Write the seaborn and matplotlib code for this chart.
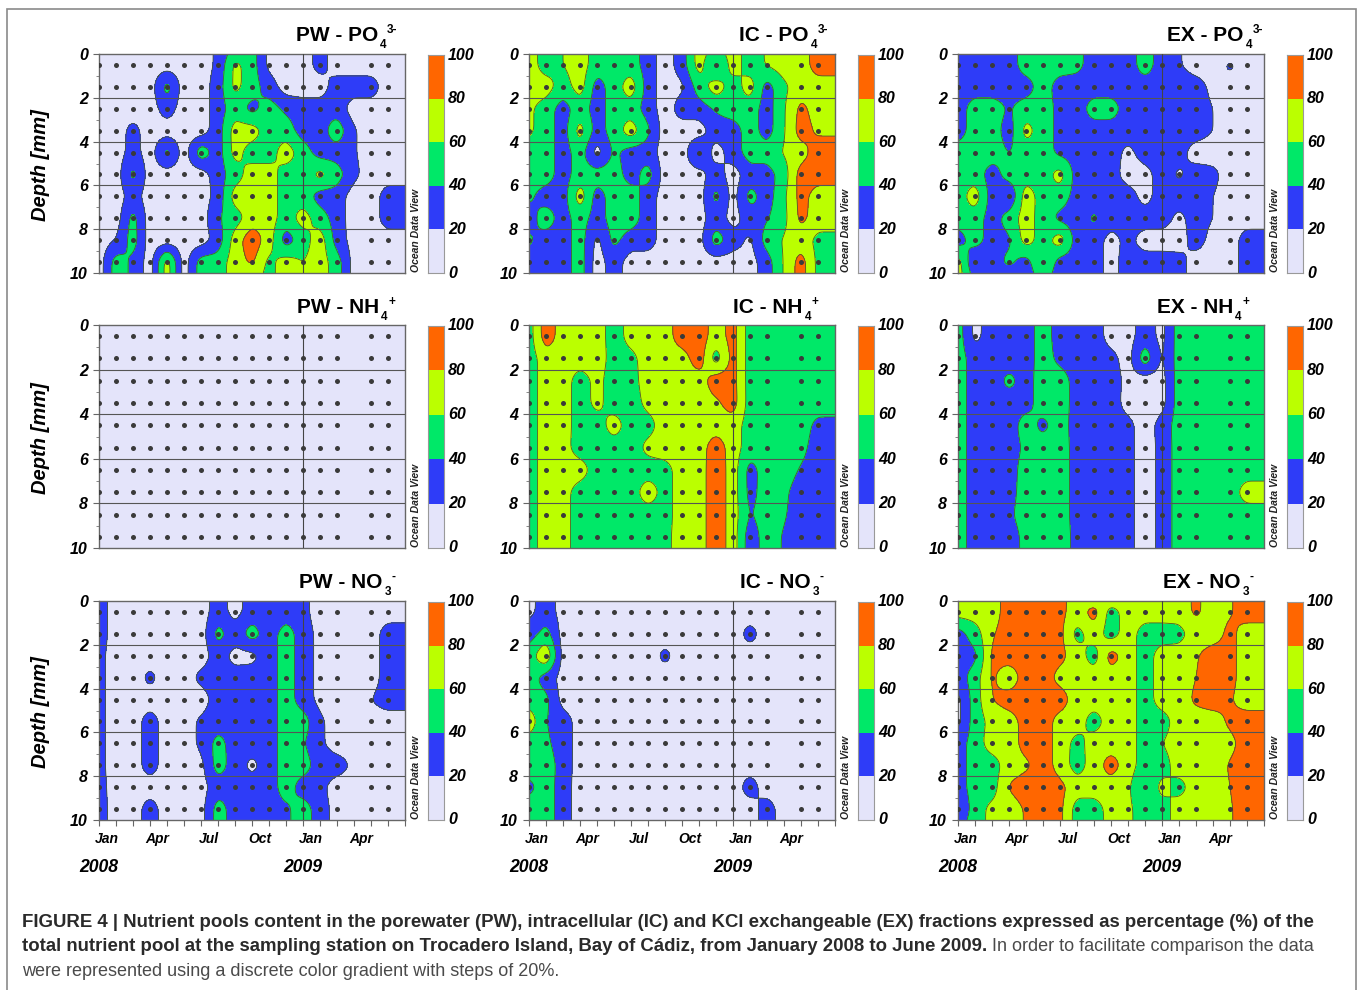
import numpy as np
import pandas as pd
import seaborn as sns
import matplotlib.pyplot as plt
from matplotlib.colors import ListedColormap
from matplotlib.patches import Rectangle
from matplotlib.ticker import MultipleLocator

W, H = 1357, 990

# percent of the pool at each sampling dot, rows = depth 0.5..9.5 mm, columns = month 0..17
pw_po4 = [
    [10,10,10,10,10,10,10,24,66,50,14,10,10,28,10,10,10,10],
    [10,10,10,10,50,10,10,30,66,50,30,10,10,10,30,30,30,10],
    [10,10,10,10,30,10,10,30,50,32,50,36,30,30,30,10,10,10],
    [10,10,27,10,10,10,10,30,70,70,50,50,30,30,54,22,10,10],
    [10,10,28,10,50,10,54,30,68,50,50,72,50,30,30,22,10,10],
    [10,10,48,10,10,10,10,30,50,70,70,50,50,68,50,25,10,10],
    [10,10,28,10,10,10,10,27,70,70,70,50,50,30,30,10,10,30],
    [10,10,48,10,10,10,10,38,50,70,70,50,70,50,30,10,10,30],
    [10,20,50,10,10,10,10,28,70,94,70,28,50,72,30,12,10,10],
    [10,50,36,10,72,10,50,50,70,84,54,70,60,70,50,12,10,10],
]
ic_po4 = [
    [70,50,60,70,50,50,50,30,10,30,70,32,70,50,62,70,70,90],
    [70,70,50,70,30,50,72,30,10,16,50,72,50,70,30,56,70,70],
    [64,50,30,50,30,50,50,30,10,30,30,42,50,50,30,58,86,70],
    [64,50,30,70,30,50,72,44,10,10,10,30,30,50,30,58,90,76],
    [50,50,30,50,10,44,30,30,10,10,46,10,30,50,50,62,70,92],
    [50,50,30,50,50,50,30,50,10,10,12,30,10,30,30,50,90,90],
    [44,30,30,72,30,50,50,30,10,10,10,48,12,48,30,56,88,70],
    [30,52,30,50,30,50,50,30,10,10,12,30,12,30,38,54,86,70],
    [44,30,30,50,14,46,30,30,10,10,12,52,30,16,50,62,70,54],
    [30,30,30,50,10,30,10,10,10,10,10,10,10,12,30,62,90,54],
]
ex_po4 = [
    [30,30,30,30,50,50,50,46,30,30,30,50,30,22,10,10,25,10],
    [30,30,30,30,30,50,30,30,30,30,30,30,30,30,30,14,10,10],
    [30,50,50,38,50,50,34,30,50,50,30,30,30,30,30,20,10,10],
    [30,50,50,30,68,50,34,30,30,30,30,30,30,30,30,20,10,10],
    [50,50,50,39,50,50,34,30,30,30,14,30,30,28,10,10,10,10],
    [50,50,30,50,50,50,70,30,30,30,10,12,30,16,30,26,10,10],
    [50,72,30,18,72,50,50,32,30,30,30,12,30,30,30,20,10,10],
    [50,50,30,50,70,50,34,30,44,30,30,30,30,14,30,20,10,10],
    [30,50,30,36,70,50,72,30,30,12,26,10,10,10,30,12,10,30],
    [70,18,30,46,30,64,30,30,30,12,30,30,30,28,10,10,10,30],
]
pw_nh4 = [
    [10,10,10,10,10,10,10,10,10,10,10,10,10,10,10,10,10,10],
    [10,10,10,10,10,10,10,10,10,10,10,10,10,10,10,10,10,10],
    [10,10,10,10,10,10,10,10,10,10,10,10,10,10,10,10,10,10],
    [10,10,10,10,10,10,10,10,10,10,10,10,10,10,10,10,10,10],
    [10,10,10,10,10,10,10,10,10,10,10,10,10,10,10,10,10,10],
    [10,10,10,10,10,10,10,10,10,10,10,10,10,10,10,10,10,10],
    [10,10,10,10,10,10,10,10,10,10,10,10,10,10,10,10,10,10],
    [10,10,10,10,10,10,10,10,10,10,10,10,10,10,10,10,10,10],
    [10,10,10,10,10,10,10,10,10,10,10,10,10,10,10,10,10,10],
    [10,10,10,10,10,10,10,10,10,10,10,10,10,10,10,10,10,10],
]
ic_nh4 = [
    [50,92,70,70,70,50,68,70,70,92,92,70,88,50,50,50,50,50],
    [50,70,70,70,70,52,54,70,70,70,92,48,88,50,50,50,50,50],
    [50,70,70,50,66,50,52,70,70,70,70,92,88,50,50,50,50,50],
    [50,70,70,50,66,50,50,66,70,70,70,76,90,50,50,50,50,50],
    [50,70,70,50,50,70,50,52,70,70,70,70,70,50,50,50,50,34],
    [50,70,68,50,50,50,50,66,70,70,70,92,70,50,50,50,46,30],
    [50,70,70,70,50,50,50,50,52,70,70,94,70,32,50,50,38,30],
    [50,70,68,50,50,50,50,72,52,70,70,94,70,33,50,44,30,30],
    [50,70,68,50,50,50,50,50,52,70,70,94,70,38,50,42,30,30],
    [50,70,68,50,50,50,50,50,54,70,70,94,70,28,50,38,30,30],
]
ex_nh4 = [
    [50,14,30,30,30,50,30,30,30,12,12,30,14,50,50,50,50,50],
    [50,30,30,30,30,50,34,30,30,26,12,54,16,50,50,50,50,50],
    [50,30,30,46,32,50,50,32,30,30,14,10,12,50,50,50,50,50],
    [50,30,30,30,32,50,50,32,30,30,12,10,12,50,50,50,50,50],
    [50,30,30,30,50,34,50,30,30,30,26,10,28,50,50,50,50,50],
    [50,30,30,30,44,50,50,32,30,30,26,10,26,50,50,50,50,50],
    [50,30,30,30,50,50,50,32,30,30,26,10,26,50,50,50,50,50],
    [50,30,30,32,50,50,50,32,30,30,26,10,26,50,50,50,50,70],
    [50,30,30,36,50,50,50,32,30,30,26,10,26,50,50,50,50,50],
    [50,30,30,30,46,50,50,34,30,30,26,10,26,50,50,50,50,50],
]
pw_no3 = [
    [30,10,10,10,10,10,10,30,12,30,18,30,26,10,10,10,10,10],
    [30,10,10,10,10,10,10,48,30,50,30,50,30,14,10,10,10,30],
    [26,10,10,10,10,10,10,30,12,14,30,50,30,14,10,10,10,30],
    [26,10,10,26,10,10,26,30,30,30,30,50,30,14,10,10,10,30],
    [26,10,10,10,10,10,10,30,30,30,30,50,30,14,10,10,20,30],
    [26,10,10,30,10,10,24,30,30,30,30,50,50,24,10,10,10,10],
    [26,10,10,30,10,10,24,48,30,30,30,50,42,24,10,10,10,10],
    [26,10,10,30,10,10,14,50,30,14,30,50,50,30,30,16,10,10],
    [28,10,10,10,10,10,12,30,30,30,30,50,30,26,10,10,10,10],
    [30,10,10,30,10,10,12,50,30,30,30,36,50,30,12,10,10,10],
]
ic_no3 = [
    [14,30,12,10,10,10,10,10,10,10,10,10,10,10,10,10,10,10],
    [30,48,12,10,10,10,10,10,10,10,10,10,10,28,10,10,10,10],
    [50,80,12,10,10,10,10,10,26,10,10,10,10,10,10,10,10,10],
    [50,30,12,10,10,10,10,10,10,10,10,10,10,10,10,10,10,10],
    [50,46,12,10,10,10,10,10,10,10,10,10,10,10,10,10,10,10],
    [74,40,30,12,10,10,10,10,10,10,10,10,10,10,10,10,10,10],
    [50,44,30,12,10,10,10,10,10,10,10,10,10,10,10,10,10,10],
    [50,50,32,10,10,10,10,10,10,10,10,10,10,10,10,10,10,10],
    [34,50,30,10,10,10,10,10,10,10,10,10,10,30,10,10,10,10],
    [50,50,30,10,10,10,10,10,10,10,10,10,10,10,30,10,10,10],
]
ex_no3 = [
    [70,70,70,90,90,90,86,70,90,50,70,70,70,70,84,70,78,90],
    [30,50,78,90,90,90,86,52,70,50,70,50,50,52,70,70,86,70],
    [30,34,84,90,90,90,86,70,50,90,70,50,70,70,78,90,86,70],
    [30,50,84,66,90,90,73,70,70,70,70,50,70,70,80,90,86,70],
    [14,50,80,90,90,90,90,70,70,70,70,50,70,70,84,90,82,70],
    [14,50,66,70,88,90,72,70,50,70,70,50,50,70,70,70,84,90],
    [30,50,70,70,88,90,72,52,70,70,70,50,60,70,70,70,74,90],
    [30,50,50,70,76,90,72,50,70,90,70,50,50,70,70,70,82,90],
    [30,50,50,82,90,90,86,70,70,70,64,36,68,52,70,70,80,90],
    [18,50,66,70,82,90,86,50,50,68,64,50,50,70,70,70,78,90],
]

# values at the surface (0 mm) or bottom (10 mm) where a blob closes before the edge:
# panel, edge row (0 top, 11 bottom), month, percent
edge_values = [
    (0, 0, 8, 50), (0, 11, 9, 70),
    (1, 0, 11, 50),
    (2, 0, 16, 10), (2, 11, 1, 30), (2, 11, 3, 30), (2, 11, 5, 50),
    (6, 0, 10, 30),
    (8, 0, 8, 70), (8, 0, 9, 70), (8, 11, 0, 30),
]

panel_titles = ["PW - PO", "IC - PO", "EX - PO", "PW - NH", "IC - NH", "EX - NH", "PW - NO", "IC - NO", "EX - NO"]
title_sub = ["4", "4", "4", "4", "4", "4", "3", "3", "3"]
title_sup = ["3-", "3-", "3-", "+", "+", "+", "-", "-", "-"]
panel_values = [pw_po4, ic_po4, ex_po4, pw_nh4, ic_nh4, ex_nh4, pw_no3, ic_no3, ex_no3]
title_x = [296, 739, 1167, 297, 733, 1157, 299, 740, 1163]
title_y = [41, 41, 41, 313, 313, 313, 588, 588, 588]

month_labels = ["Jan", "Apr", "Jul", "Oct", "Jan", "Apr"]
month_ticks = [0, 3, 6, 9, 12, 15]
year_labels = ["2008", "2009"]
year_ticks = [0, 12]
depth_ticks = [0, 2, 4, 6, 8, 10]
scale_ticks = [0, 20, 40, 60, 80, 100]
scale_mid = [90, 70, 50, 30, 10]
no_dot_month = 15
class_colors = ["#E4E4FA", "#2E3CF8", "#00E868", "#BBFF00", "#FF6600"]

caption_1 = "FIGURE 4 | Nutrient pools content in the porewater (PW), intracellular (IC) and KCl exchangeable (EX) fractions expressed as percentage (%) of the"
caption_2a = "total nutrient pool at the sampling station on Trocadero Island, Bay of Cádiz, from January 2008 to June 2009."
caption_2b = " In order to facilitate comparison the data"
caption_3 = "were represented using a discrete color gradient with steps of 20%."

sns.set_theme(style="ticks")
plt.rcParams['font.family'] = ['Liberation Sans', 'DejaVu Sans']

fig = plt.figure(figsize=(W / 100, H / 100), dpi=100, facecolor="white")


def px_axes(x0, y0, x1, y1):
    return fig.add_axes([x0 / W, 1 - y1 / H, (x1 - x0) / W, (y1 - y0) / H])


def px_text(x, y, s, **kw):
    return fig.text(x / W, 1 - y / H, s, **kw)


def smooth(field, size):
    # same rounded look as the gridded fields in the original
    r = int(size * 3)
    kernel = np.exp(-0.5 * (np.arange(-r, r + 1) / size) ** 2)
    kernel = kernel / kernel.sum()
    return np.convolve(np.pad(field, r, mode="edge"), kernel, mode="valid")


def grid_field(values, panel):
    arr = np.array(values, dtype=float)
    arr = np.pad(arr, ((1, 1), (0, 1)), mode="edge")
    for p, r, m, v in edge_values:
        if p == panel:
            arr[r, m] = v
    months = np.arange(19)
    depths = np.r_[0, np.arange(10) + 0.5, 10]
    fine_x = np.linspace(0, 18, 361)
    fine_y = np.linspace(0, 10, 401)
    f = np.array([np.interp(fine_x, months, row) for row in arr])
    f = np.array([np.interp(fine_y, depths, col) for col in f.T]).T
    f = np.array([smooth(row, 3.2) for row in f])
    f = np.array([smooth(col, 6.5) for col in f.T]).T
    return fine_x, fine_y, f


dots = pd.DataFrame(
    [(m, d + 0.5) for m in range(18) if m != no_dot_month for d in range(10)],
    columns=["month", "depth"],
)
col_x = [(99, 405), (529, 835), (958, 1264)]
row_y = [(54, 273), (325, 548), (601, 820)]
scale_levels = np.array(scale_ticks)
cmap = ListedColormap(class_colors)

fig.add_artist(Rectangle((7 / W, -0.05), 1349 / W, 1.05 - 9 / H, transform=fig.transFigure,
                         fill=False, edgecolor="#8a8a8a", linewidth=1.2))

for i, values in enumerate(panel_values):
    row, col = divmod(i, 3)
    x0, x1 = col_x[col]
    y0, y1 = row_y[row]
    ax = px_axes(x0, y0, x1, y1)
    fx, fy, field = grid_field(values, i)
    ax.contourf(fx, fy, field, levels=scale_levels, colors=class_colors)
    inside = [v for v in scale_ticks[1:-1] if field.min() < v < field.max()]
    if inside:
        ax.contour(fx, fy, field, levels=inside, colors="#4a5a30", linewidths=0.6)
    sns.scatterplot(data=dots, x="month", y="depth", ax=ax, color="#3a3a3a", s=13,
                    linewidth=0, legend=False, zorder=4)
    for d in depth_ticks[1:-1]:
        ax.axhline(d, color="#555555", linewidth=0.8, zorder=3)
    ax.axvline(12, color="#444444", linewidth=0.8, zorder=3)
    ax.set_xlim(0, 18)
    ax.set_ylim(10, 0)
    ax.set_xlabel("")
    ax.set_ylabel("")
    for s in ax.spines.values():
        s.set_color("#666666")
        s.set_linewidth(1.0)
    ax.set_yticks(depth_ticks)
    ax.set_yticklabels([str(d) for d in depth_ticks], fontsize=11.5, fontweight="bold", fontstyle="italic", color="black")
    ax.yaxis.set_minor_locator(MultipleLocator(1))
    ax.tick_params(axis="y", which="major", length=4, width=0.8, color="#666666", pad=4)
    ax.tick_params(axis="y", which="minor", length=2.5, width=0.7, color="#888888")
    if row == 2:
        ax.set_xticks(range(19))
        ax.set_xticklabels([])
        ax.tick_params(axis="x", length=4, width=0.8, color="#666666")
        for lab, m in zip(month_labels, month_ticks):
            px_text(x0 + (m + 0.45) * 17, 839, lab, ha="center", va="center", fontsize=10,
                    fontweight="bold", fontstyle="italic", color="black")
        for lab, m in zip(year_labels, year_ticks):
            px_text(x0 + m * 17, 868, lab, ha="center", va="center", fontsize=12.7,
                    fontweight="bold", fontstyle="italic", color="black")
    else:
        ax.set_xticks([])

    # colour scale beside each panel
    cax = px_axes(x1 + 23, y0 + 1, x1 + 39, y1)
    scale = pd.DataFrame({"pct": scale_mid})
    sns.heatmap(scale, ax=cax, cmap=cmap, vmin=0, vmax=100, cbar=False, xticklabels=False, yticklabels=False)
    cax.set_xlabel("")
    cax.set_ylabel("")
    for s in cax.spines.values():
        s.set_visible(True)
        s.set_color("#999999")
        s.set_linewidth(0.8)
    cax.tick_params(left=False, bottom=False, labelleft=False, labelbottom=False)
    for k, t in enumerate(scale_ticks):
        cax.annotate(str(t), xy=(1, k / 5), xycoords="axes fraction", xytext=(3, 0),
                     textcoords="offset points", ha="left", va="center", fontsize=11.5,
                     fontweight="bold", fontstyle="italic", color="black")

    px_text(x1 + 11, y1 - 1, "Ocean Data View", rotation=90, ha="center", va="bottom", fontsize=7.5,
            fontweight="bold", fontstyle="italic", color="#222222")
    if col == 0:
        px_text(40, (y0 + y1) / 2 + 2, "Depth [mm]", rotation=90, ha="center", va="center", fontsize=14.5,
                fontweight="bold", fontstyle="italic", color="black")
    main = px_text(title_x[i], title_y[i], panel_titles[i], ha="left", va="baseline", fontsize=15,
                   fontweight="bold", color="black")
    fig.canvas.draw()
    tx = main.get_window_extent().x1
    px_text(tx + 2, title_y[i] + 7, title_sub[i], ha="left", va="baseline", fontsize=8.5, fontweight="bold", color="black")
    px_text(tx + 9, title_y[i] - 8, title_sup[i], ha="left", va="baseline", fontsize=8.5, fontweight="bold", color="black")

px_text(22, 927, caption_1, ha="left", va="baseline", fontsize=13.4, fontweight="bold", color="#2a2a2a")
first = px_text(22, 951, caption_2a, ha="left", va="baseline", fontsize=13.4, fontweight="bold", color="#2a2a2a")
fig.canvas.draw()
end_x = first.get_window_extent().x1
px_text(end_x, 951, caption_2b, ha="left", va="baseline", fontsize=13, color="#4a4a4a")
px_text(22, 976, caption_3, ha="left", va="baseline", fontsize=13, color="#4a4a4a")

fig.savefig("out.png", dpi=100)
